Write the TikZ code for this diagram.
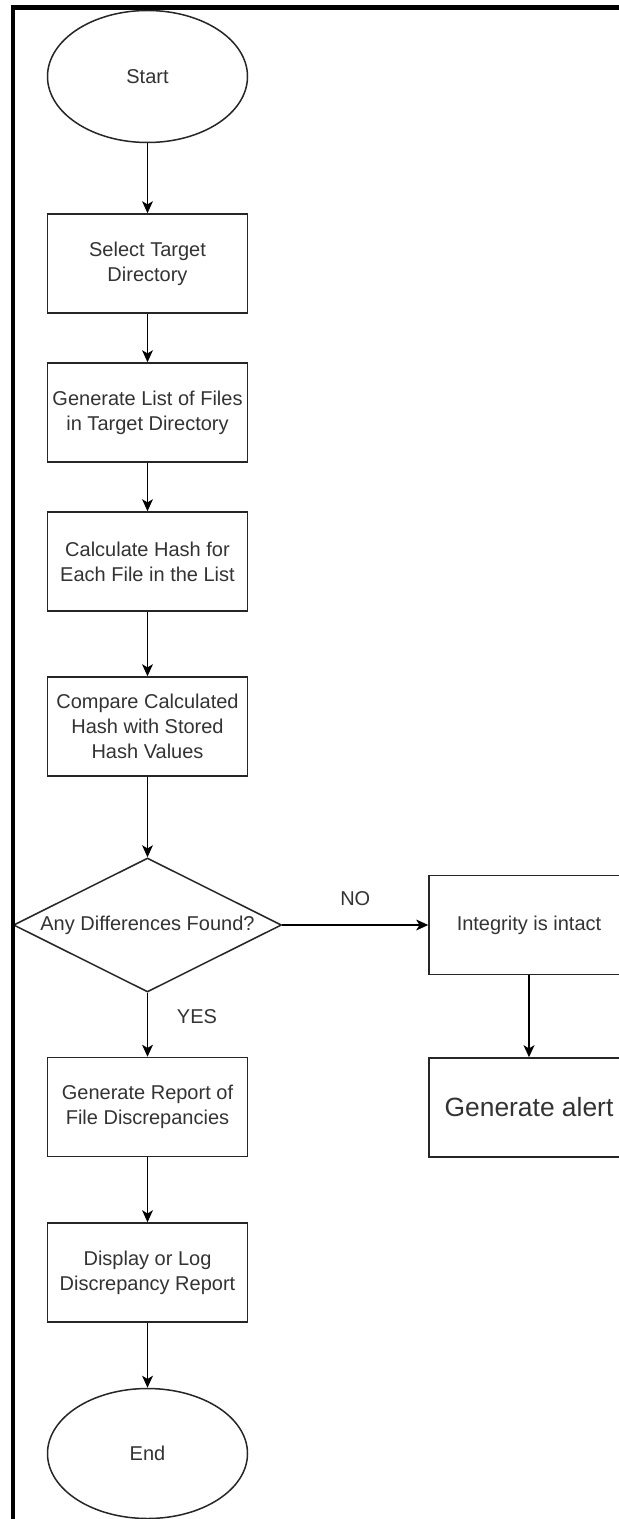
\documentclass[tikz,border=0pt]{standalone}
\usepackage{fontspec}
\setmainfont{Liberation Sans}
\usetikzlibrary{arrows.meta, shapes}

\begin{document}
\begin{tikzpicture}[x=0.5pt, y=-0.5pt]
	\tikzstyle{term} = [ draw=black!85, ellipse, line width=0.75pt, minimum width=100pt, minimum height=66pt, font={\fontsize{10}{12.5}\selectfont}, text=black!80 ];
	\tikzstyle{proc} = [ draw=black!85, rectangle, line width=0.75pt, inner xsep=1pt, minimum width=100pt, minimum height=49.5pt, align=center, font={\fontsize{10}{12.5}\selectfont}, text=black!80 ];
	\tikzstyle{decide} = [ draw=black!85, diamond, aspect=2, inner sep=0pt, line width=0.75pt, minimum width=134pt, minimum height=67pt, font={\fontsize{10}{12.5}\selectfont}, text=black!80 ];
	\tikzstyle{flow} = [ -{Stealth[length=6pt, width=5.4pt, inset=1.6pt]}, line width=0.75pt ];
	\tikzstyle{info} = [ font={\fontsize{10}{12.5}\selectfont}, text=black!80 ];

	\clip (0,0) rectangle (619,1519);
	\fill[white] (0,0) rectangle (619,1519);

	% main column
	\node[term] (start) at (147.5,76.5) {Start};
	\node[proc] (sel) at (147.5,263.5) {Select Target\\Directory};
	\node[proc] (list) at (147.5,412.5) {Generate List of Files\\in Target Directory};
	\node[proc] (hash) at (147.5,561.5) {Calculate Hash for\\Each File in the List};
	\node[proc] (cmp) at (147.5,726.5) {Compare Calculated\\Hash with Stored\\Hash Values};
	\node[decide] (diff) at (147.5,925) {\makebox[0pt]{Any Differences Found?}};
	\node[proc] (rep) at (147.5,1107) {Generate Report of\\File Discrepancies};
	\node[proc] (disp) at (147.5,1272.5) {Display or Log\\Discrepancy Report};
	\node[term, minimum height=65pt] (stop) at (147.5,1453.5) {End};

	% right branch
	\node[proc] (ok) at (529,925) {Integrity is intact};
	\node[proc, font={\fontsize{13.2}{15}\selectfont}] (alert) at (529,1107.5) {Generate alert};

	\foreach \a/\b in {start/sel, sel/list, list/hash, hash/cmp, cmp/diff, rep/disp, disp/stop} {
		\draw[flow] (\a) -- (\b);
	}
	\draw[flow] (diff) -- node[info, above=6pt] {NO} (ok);
	\draw[flow] (diff) -- node[info, pos=0.37, right=11pt] {YES} (rep);
	\draw[flow, line width=1.2pt] (ok) -- (alert);

	\draw[line width=2.2pt] (13,1519) -- (13,7.5) -- (619,7.5);
\end{tikzpicture}
\end{document}
